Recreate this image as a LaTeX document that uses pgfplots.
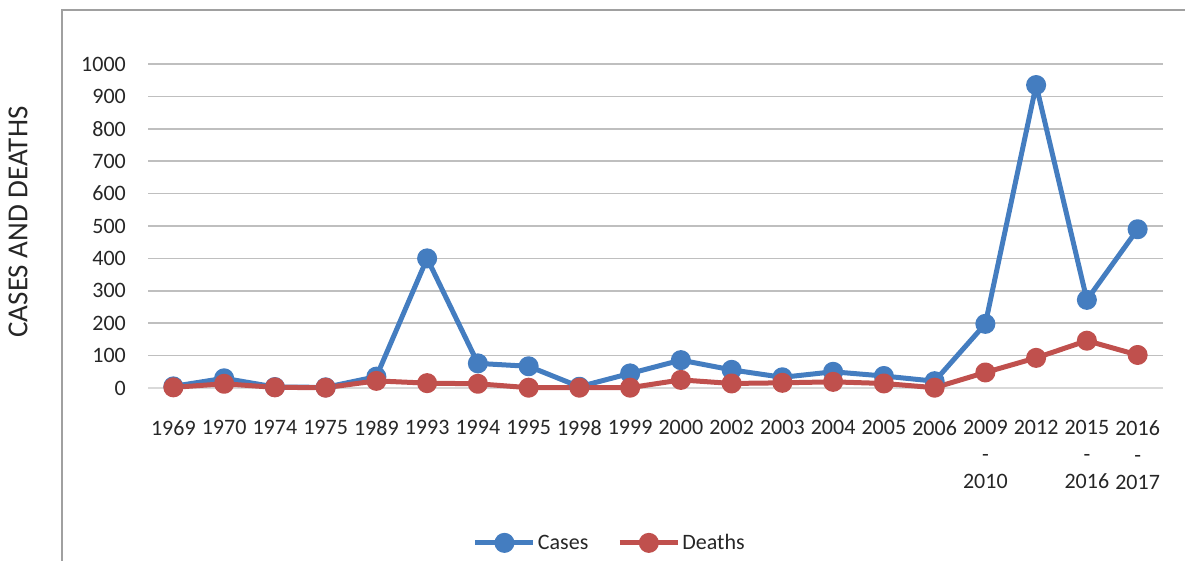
\documentclass[border=0pt]{standalone}
\usepackage{pgfplots}
\pgfplotsset{compat=1.18}
\usepackage{fontspec}
\setmainfont{Carlito}
\definecolor{cblue}{RGB}{68,125,192}
\definecolor{cred}{RGB}{192,80,77}
\definecolor{gridc}{RGB}{191,191,191}
\definecolor{zeroc}{RGB}{217,217,217}
\definecolor{txt}{RGB}{38,38,38}
\definecolor{framec}{RGB}{160,160,160}
\begin{document}
\begin{tikzpicture}[x=1pt,y=1pt]
\path[use as bounding box] (0,0) rectangle (1185,560);
\draw[framec, line width=2pt] (62,-5) -- (62,550) -- (1190,550);
\node[rotate=90, font=\fontsize{29}{34}\selectfont, text=txt] at (18,338) {CASES AND DEATHS};
\begin{axis}[
 at={(148pt,172pt)}, anchor=south west,
 width=1015pt, height=324pt, scale only axis,
 xmin=-0.5, xmax=19.5, ymin=0, ymax=1000,
 xtick={0,...,19},
 xticklabels={1969,1970,1974,1975,1989,1993,1994,1995,1998,1999,2000,2002,2003,2004,2005,2006,{2009\\-\\2010},2012,{2015\\-\\2016},{2016\\-\\2017}},
 ytick={100,200,...,1000},
 extra y ticks={0}, extra y tick labels={0},
 extra y tick style={grid style={color=zeroc, line width=2.5pt}},
 ymajorgrids, grid style={gridc, line width=1.6pt},
 axis line style={draw=none},
 major tick length=0pt,
 tick style={draw=none},
 clip=false,
 /pgf/number format/assume math mode=true,
 /pgf/number format/1000 sep={},
 ticklabel style={font=\fontsize{22}{27}\selectfont, text=txt},
 xticklabel style={align=center, anchor=north, inner sep=0pt, yshift=-32pt},
 yticklabel style={anchor=east, inner sep=0pt, xshift=-22pt},
 legend style={at={(0.455,-0.478)}, anchor=center, draw=none, fill=none,
   legend columns=-1, font=\fontsize{22}{27}\selectfont, text=txt,
   /tikz/every even column/.append style={column sep=27pt}},
 legend image code/.code={\draw[mark repeat=2,mark phase=2,#1] plot coordinates {(0pt,0pt)(29pt,0pt)(58pt,0pt)};},
]
\addplot[cblue, line width=5pt, line join=round, mark=*, mark size=7.5pt, mark options={draw=none, fill=cblue}] coordinates {
(0,5)(1,30)(2,3)(3,2)(4,35)(5,400)(6,76)(7,67)(8,4)(9,45)(10,86)(11,56)(12,33)(13,50)(14,37)(15,21)(16,198)(17,935)(18,272)(19,490)};
\addlegendentry{Cases}
\addplot[cred, line width=5pt, line join=round, mark=*, mark size=7.5pt, mark options={draw=none, fill=cred}] coordinates {
(0,2)(1,13)(2,2)(3,1)(4,22)(5,15)(6,13)(7,1)(8,1)(9,1)(10,25)(11,14)(12,16)(13,19)(14,14)(15,1)(16,48)(17,93)(18,146)(19,102)};
\addlegendentry{Deaths}
\end{axis}
\end{tikzpicture}
\end{document}
